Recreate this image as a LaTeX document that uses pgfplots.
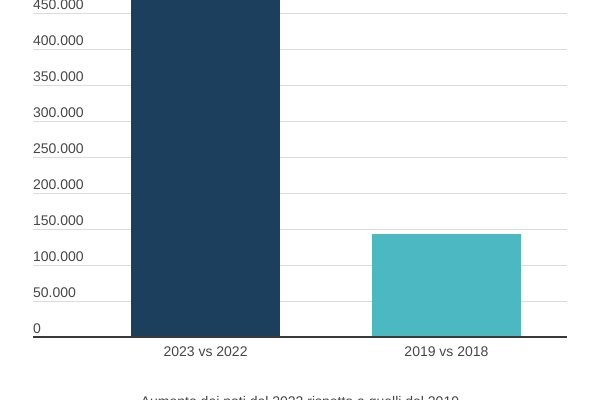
\documentclass[border=0pt]{standalone}
\usepackage{pgfplots}
\pgfplotsset{compat=1.18}
\usepackage{fontspec}
\setmainfont{Liberation Sans}
\definecolor{darkbar}{HTML}{1B3F5C}
\definecolor{lightbar}{HTML}{4BB8C2}
\definecolor{labelgray}{HTML}{464646}
\definecolor{gridgray}{HTML}{DCDCDC}
\definecolor{basegray}{HTML}{3A3A3A}
\begin{document}
% 1px = 0.75pt, picture is 600x400 px
\begin{tikzpicture}[x=0.75pt,y=0.75pt]
\useasboundingbox (0,0) rectangle (600,400);
\clip (0,0) rectangle (600,400);
\begin{axis}[
  at={(24.75pt,47.03pt)}, anchor=south west,
  scale only axis,
  width=400.5pt, height=252.98pt,
  xmin=-0.716, xmax=1.5,
  ymin=0, ymax=468500,
  ybar, bar width=111.75pt,
  xtick={0,1},
  xticklabels={2023 vs 2022, 2019 vs 2018},
  ytick={0,50000,100000,150000,200000,250000,300000,350000,400000,450000},
  yticklabels={0,50.000,100.000,150.000,200.000,250.000,300.000,350.000,400.000,450.000},
  ymajorgrids,
  grid style={gridgray, line width=0.75pt},
  major tick length=0pt,
  axis line style={draw=none},
  tick label style={font=\fontsize{10.5}{12}\selectfont, text=labelgray},
  yticklabel style={anchor=south west, xshift=-3.5pt, yshift=-0.5pt},
  xticklabel style={yshift=-3.5pt},
]
\addplot[fill=darkbar, draw=none, bar shift=0pt] coordinates {(0,520000)};
\addplot[fill=lightbar, draw=none, bar shift=0pt] coordinates {(1,143500)};
\draw[basegray, line width=1.5pt] (axis cs:-0.716,0) -- (axis cs:1.5,0);
\end{axis}
\node[anchor=north, inner sep=0pt, font=\fontsize{10.5}{12}\selectfont, text=labelgray]
  at (300,4) {Aumento dei nati del 2023 rispetto a quelli del 2019};
\end{tikzpicture}
\end{document}
